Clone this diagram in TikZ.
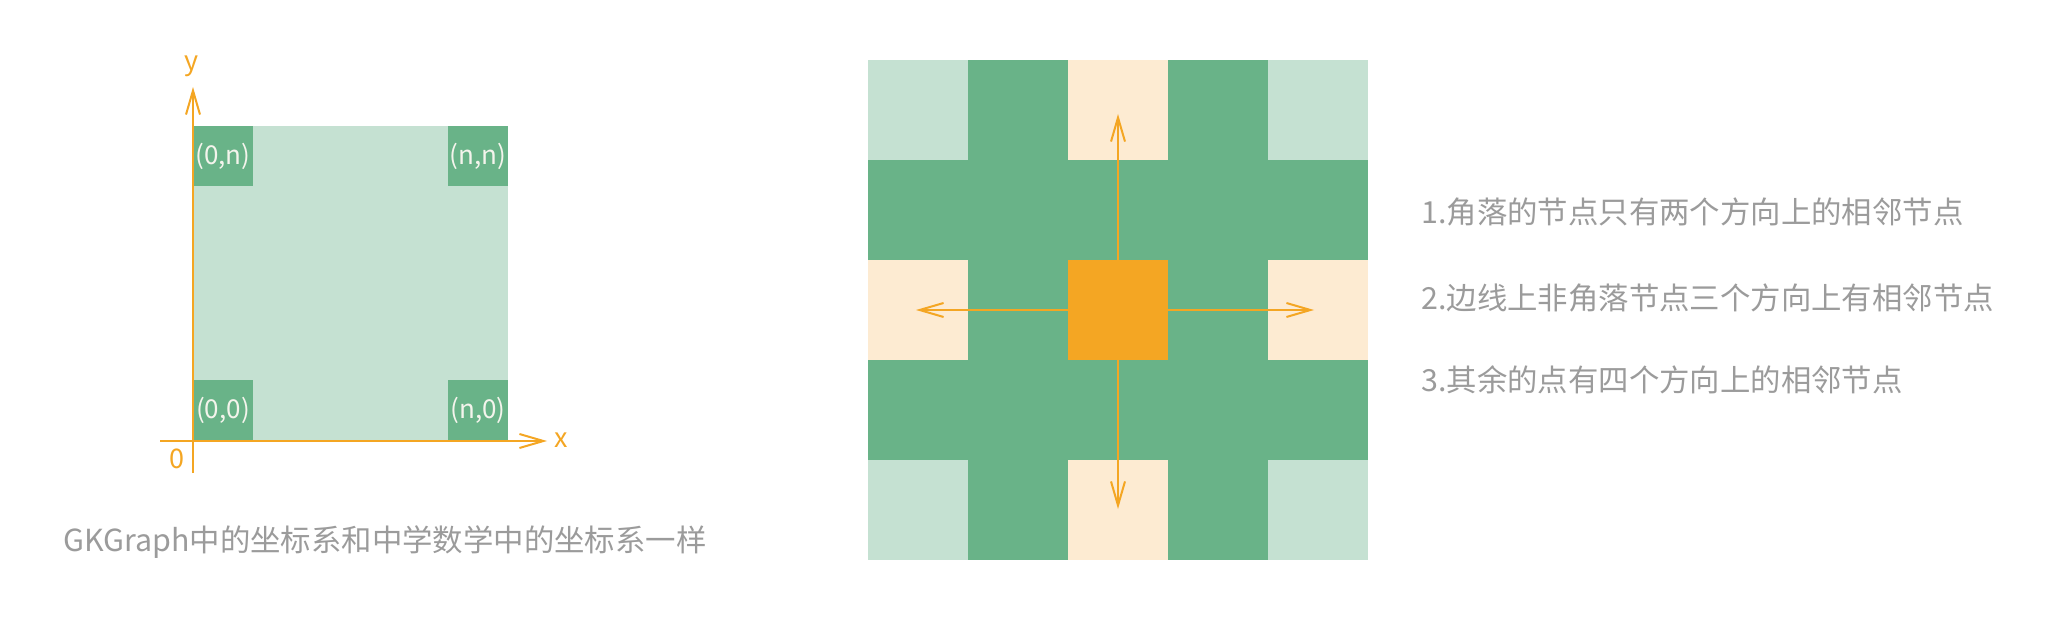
\documentclass[tikz,border=0pt]{standalone}
\usepackage{fontspec}
\setmainfont{Noto Sans CJK SC}
\usetikzlibrary{arrows.meta}
\definecolor{lgreen}{HTML}{C5E1D2}
\definecolor{dgreen}{HTML}{69B388}
\definecolor{cream}{HTML}{FDEBD2}
\definecolor{orng}{HTML}{F4A623}
\definecolor{txtgray}{HTML}{9B9B9B}
\definecolor{lbl}{HTML}{F4F4EC}
\begin{document}
\begin{tikzpicture}[x=0.5pt,y=-0.5pt,
  sq/.style={minimum width=30pt,minimum height=30pt,inner sep=0pt,outer sep=0pt,fill=dgreen,text=lbl,font=\fontsize{13pt}{15pt}\selectfont},
  cell/.style={minimum width=50pt,minimum height=50pt,inner sep=0pt,outer sep=0pt},
  axis/.style={draw=orng,line width=1pt,-{Straight Barb[length=12pt,width=7pt]}},
  arr/.style={draw=orng,line width=1pt,-{Straight Barb[length=12pt,width=7pt]}},
  axlbl/.style={text=orng,inner sep=0pt,font=\fontsize{13.5pt}{15pt}\selectfont},
  note/.style={text=txtgray,anchor=west,inner sep=0pt,font=\fontsize{15.2pt}{18pt}\selectfont}]
\useasboundingbox (0,0) rectangle (2072,620);
% ---- left: coordinate system ----
\fill[lgreen] (193,126) rectangle (508,440);
\node[sq] (s0n) at (223,156) {(0,n)};
\node[sq] (snn) at (478,156) {(n,n)};
\node[sq] (s00) at (223,410) {(0,0)};
\node[sq] (sn0) at (478,410) {(n,0)};
\coordinate (yb) at (193,473);
\coordinate (yt) at (193,87);
\coordinate (xl) at (160,441);
\coordinate (xr) at (547,441);
\draw[axis] (yb) -- (yt);
\draw[axis] (xl) -- (xr);
\node[axlbl] (ylab) at (192,66) {y};
\node[axlbl] (xlab) at (561,440) {x};
\node[axlbl] (olab) at (177,459) {0};
\node[note] (cap) at (63,542) {GKGraph中的坐标系和中学数学中的坐标系一样};
% ---- right: grid ----
\fill[dgreen] (868,60) rectangle (1368,560);
\node[cell,fill=lgreen] (c00) at (918,110) {};
\node[cell,fill=cream]  (c20) at (1118,110) {};
\node[cell,fill=lgreen] (c40) at (1318,110) {};
\node[cell,fill=cream]  (c02) at (918,310) {};
\node[cell,fill=orng]   (c22) at (1118,310) {};
\node[cell,fill=cream]  (c42) at (1318,310) {};
\node[cell,fill=lgreen] (c04) at (918,510) {};
\node[cell,fill=cream]  (c24) at (1118,510) {};
\node[cell,fill=lgreen] (c44) at (1318,510) {};
\coordinate (tn) at (1118,114);
\coordinate (ts) at (1118,509);
\coordinate (tw) at (916,310);
\coordinate (te) at (1314,310);
\draw[arr] (c22.north) -- (tn);
\draw[arr] (c22.south) -- (ts);
\draw[arr] (c22.west) -- (tw);
\draw[arr] (c22.east) -- (te);
% ---- notes ----
\node[note] (n1) at (1421,211.7) {1.角落的节点只有两个方向上的相邻节点};
\node[note] (n2) at (1421,298.3) {2.边线上非角落节点三个方向上有相邻节点};
\node[note] (n3) at (1421,380) {3.其余的点有四个方向上的相邻节点};
\end{tikzpicture}
\end{document}
